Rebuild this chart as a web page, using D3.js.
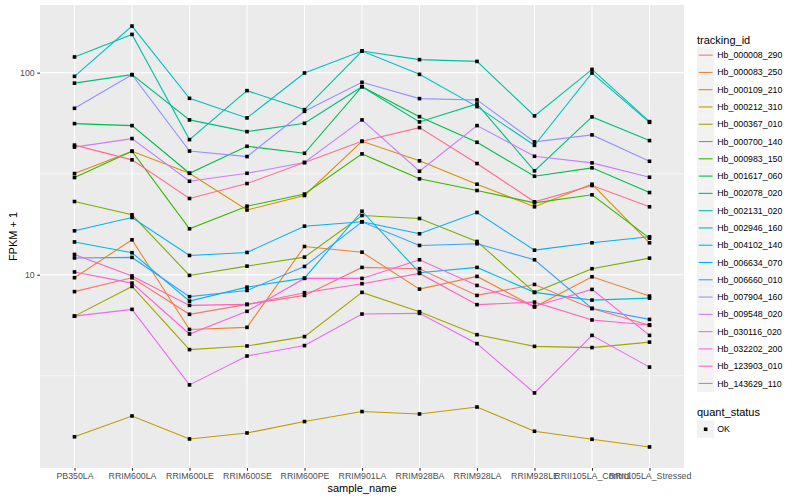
<!DOCTYPE html>
<html>
<head>
<meta charset="utf-8">
<script src="https://cdn.jsdelivr.net/npm/d3@7"></script>
<style>
  body { margin: 0; background: #fff; }
  svg { font-family: "Liberation Sans", Arial, sans-serif; }
</style>
</head>
<body>
<svg width="800" height="500"></svg>
<script>
var samples = ["PB350LA", "RRIM600LA", "RRIM600LE", "RRIM600SE", "RRIM600PE", "RRIM901LA",
  "RRIM928BA", "RRIM928LA", "RRIM928LE", "RRII105LA_Control", "RRII105LA_Stressed"];

var trackingIds = ["Hb_000008_290", "Hb_000083_250", "Hb_000109_210", "Hb_000212_310",
  "Hb_000367_010", "Hb_000700_140", "Hb_000983_150", "Hb_001617_060", "Hb_002078_020",
  "Hb_002131_020", "Hb_002946_160", "Hb_004102_140", "Hb_006634_070", "Hb_006660_010",
  "Hb_007904_160", "Hb_009548_020", "Hb_030116_020", "Hb_032202_200", "Hb_123903_010",
  "Hb_143629_110"];

// FPKM + 1, one row per tracking_id, one value per sample
var fpkm = [
  [8.25, 9.66, 6.37, 7.13, 7.90, 10.87, 10.71, 7.90, 8.95, 6.81, 5.62],
  [9.67, 14.89, 5.36, 5.49, 13.80, 12.93, 8.49, 9.81, 6.92, 9.77, 7.84],
  [31.67, 40.83, 31.78, 20.91, 24.66, 45.74, 36.61, 28.05, 21.69, 28.05, 14.39],
  [1.578, 2.000, 1.539, 1.648, 1.877, 2.103, 2.046, 2.215, 1.680, 1.534, 1.405],
  [6.24, 8.75, 4.26, 4.44, 4.94, 8.18, 6.56, 5.05, 4.42, 4.36, 4.64],
  [23.03, 19.80, 9.92, 11.03, 12.22, 19.64, 18.98, 14.61, 8.18, 10.71, 12.08],
  [30.27, 40.83, 16.88, 21.84, 25.08, 39.63, 29.82, 26.11, 22.69, 24.86, 15.17],
  [55.97, 54.70, 31.78, 43.21, 39.91, 85.24, 60.59, 45.23, 30.72, 33.80, 25.51],
  [88.74, 97.75, 58.37, 51.08, 56.16, 85.24, 57.05, 70.02, 32.67, 60.39, 46.11],
  [119.6, 154.6, 46.63, 81.47, 65.63, 128.0, 116.0, 113.7, 61.09, 103.8, 57.25],
  [95.88, 170.1, 74.65, 59.71, 99.66, 128.0, 98.08, 67.90, 43.70, 99.66, 56.79],
  [14.53, 12.85, 7.40, 8.68, 9.62, 20.62, 10.23, 10.87, 8.18, 7.49, 7.66],
  [16.50, 19.20, 12.46, 12.89, 17.39, 18.28, 15.95, 20.32, 13.23, 14.39, 15.41],
  [12.11, 12.18, 7.79, 8.36, 10.99, 18.28, 13.96, 14.23, 11.86, 6.81, 6.01],
  [66.61, 97.75, 40.93, 38.44, 64.37, 89.56, 74.39, 73.30, 45.43, 49.20, 36.44],
  [42.82, 47.18, 29.02, 31.78, 35.91, 58.37, 32.52, 54.70, 38.57, 35.78, 30.37],
  [6.24, 6.74, 2.85, 3.96, 4.46, 6.39, 6.44, 4.56, 2.60, 5.01, 3.49],
  [10.32, 9.09, 5.09, 6.59, 9.59, 9.59, 11.86, 8.85, 6.99, 8.46, 5.01],
  [12.60, 9.86, 7.05, 7.13, 8.15, 9.03, 10.15, 7.11, 7.32, 5.97, 5.64],
  [43.80, 37.03, 23.84, 28.27, 35.91, 45.74, 53.46, 35.50, 22.95, 27.63, 21.69]
];

var yTicks = [10, 100];
var quantStatus = ["OK"];

// ggplot2 default hue palette for 20 levels
var hues = ["#F8766D", "#EA8331", "#D89000", "#C09B00", "#A3A500", "#7CAE00", "#39B600",
  "#00BB4E", "#00BF7D", "#00C1A3", "#00BFC4", "#00BAE0", "#00B0F6", "#35A2FF", "#9590FF",
  "#C77CFF", "#E76BF3", "#FA62DB", "#FF62BC", "#FF6C91"];

var svg = d3.select("svg");
var panel = {left: 40, right: 684, top: 5, bottom: 468};

var series = trackingIds.map(function (id, i) {
  return {id: id, color: hues[i], values: samples.map(function (s, j) {
    return {sample: s, value: fpkm[i][j]};
  })};
});

var x = d3.scalePoint()
  .domain(samples)
  .range([panel.left, panel.right])
  .padding(0.6);

// log scale with ggplot's 5% expansion in log space
var allVals = d3.merge(fpkm);
var lo = Math.log10(d3.min(allVals)), hi = Math.log10(d3.max(allVals));
var pad = (hi - lo) * 0.05;
var y = d3.scaleLog()
  .domain([Math.pow(10, lo - pad), Math.pow(10, hi + pad)])
  .range([panel.bottom, panel.top]);

svg.append("rect")
  .attr("x", panel.left).attr("y", panel.top)
  .attr("width", panel.right - panel.left)
  .attr("height", panel.bottom - panel.top)
  .attr("fill", "#EBEBEB");

var grid = svg.append("g");
var minor = [];
for (var k = -1; k < 4; k++) minor.push(Math.pow(10, k + 0.5));
minor = minor.filter(function (v) { return v > y.domain()[0] && v < y.domain()[1]; });

grid.selectAll(".minor").data(minor).enter().append("line")
  .attr("x1", panel.left).attr("x2", panel.right)
  .attr("y1", function (d) { return y(d); })
  .attr("y2", function (d) { return y(d); })
  .attr("stroke", "#fff").attr("stroke-width", 0.55);

grid.selectAll(".major").data(yTicks).enter().append("line")
  .attr("x1", panel.left).attr("x2", panel.right)
  .attr("y1", function (d) { return y(d); })
  .attr("y2", function (d) { return y(d); })
  .attr("stroke", "#fff").attr("stroke-width", 1.1);

grid.selectAll(".vmajor").data(samples).enter().append("line")
  .attr("x1", function (d) { return x(d); })
  .attr("x2", function (d) { return x(d); })
  .attr("y1", panel.top).attr("y2", panel.bottom)
  .attr("stroke", "#fff").attr("stroke-width", 1.1);

var line = d3.line()
  .x(function (d) { return x(d.sample); })
  .y(function (d) { return y(d.value); });

svg.append("g").selectAll("path")
  .data(series)
  .enter().append("path")
  .attr("d", function (d) { return line(d.values); })
  .attr("fill", "none")
  .attr("stroke", function (d) { return d.color; })
  .attr("stroke-width", 1.1);

var pts = d3.merge(series.map(function (s) { return s.values; }));
svg.append("g").selectAll("rect")
  .data(pts)
  .enter().append("rect")
  .attr("x", function (d) { return x(d.sample) - 1.8; })
  .attr("y", function (d) { return y(d.value) - 1.8; })
  .attr("width", 3.6).attr("height", 3.6)
  .attr("fill", "#000");

// axes
var xAxis = svg.append("g")
  .attr("transform", "translate(0," + panel.bottom + ")")
  .call(d3.axisBottom(x).tickSize(2.75).tickPadding(2.5));
var yAxis = svg.append("g")
  .attr("transform", "translate(" + panel.left + ",0)")
  .call(d3.axisLeft(y).tickValues(yTicks).tickFormat(d3.format("d")).tickSize(2.75).tickPadding(2.5));

[xAxis, yAxis].forEach(function (a) {
  a.select(".domain").remove();
  a.selectAll(".tick line").attr("stroke", "#333333").attr("stroke-width", 1.1);
  a.selectAll(".tick text")
    .attr("fill", "#4D4D4D")
    .style("font-family", "Liberation Sans, Arial, sans-serif")
    .style("font-size", "8.8px");
});

svg.append("text")
  .attr("x", (panel.left + panel.right) / 2)
  .attr("y", 492)
  .attr("text-anchor", "middle")
  .style("font-size", "11px")
  .text("sample_name");

svg.append("text")
  .attr("transform", "translate(17," + ((panel.top + panel.bottom) / 2) + ") rotate(-90)")
  .attr("text-anchor", "middle")
  .style("font-size", "11px")
  .text("FPKM + 1");

// legends
var lg = svg.append("g").attr("transform", "translate(697,0)");
lg.append("text")
  .attr("x", 0).attr("y", 44)
  .style("font-size", "11px")
  .text("tracking_id");

var keyH = 17.28;
var keys = lg.selectAll(".key")
  .data(series)
  .enter().append("g")
  .attr("transform", function (d, i) { return "translate(0," + (46.5 + i * keyH) + ")"; });

keys.append("rect")
  .attr("width", keyH).attr("height", keyH)
  .attr("fill", "#F2F2F2");
keys.append("line")
  .attr("x1", 1.7).attr("x2", keyH - 1.7)
  .attr("y1", keyH / 2).attr("y2", keyH / 2)
  .attr("stroke", function (d) { return d.color; })
  .attr("stroke-width", 1.1);
keys.append("text")
  .attr("x", keyH + 3).attr("y", keyH / 2)
  .attr("dy", "0.35em")
  .style("font-size", "8.8px")
  .text(function (d) { return d.id; });

var qy = 46.5 + series.length * keyH + 36;
lg.append("text")
  .attr("x", 0).attr("y", qy - 12)
  .style("font-size", "11px")
  .text("quant_status");

var qkeys = lg.selectAll(".qkey")
  .data(quantStatus)
  .enter().append("g")
  .attr("transform", function (d, i) { return "translate(0," + (qy - 7.5 + i * keyH) + ")"; });
qkeys.append("rect")
  .attr("width", keyH).attr("height", keyH)
  .attr("fill", "#F2F2F2");
qkeys.append("rect")
  .attr("x", keyH / 2 - 1.8).attr("y", keyH / 2 - 1.8)
  .attr("width", 3.6).attr("height", 3.6)
  .attr("fill", "#000");
qkeys.append("text")
  .attr("x", keyH + 3).attr("y", keyH / 2)
  .attr("dy", "0.35em")
  .style("font-size", "8.8px")
  .text(function (d) { return d; });
</script>
</body>
</html>
